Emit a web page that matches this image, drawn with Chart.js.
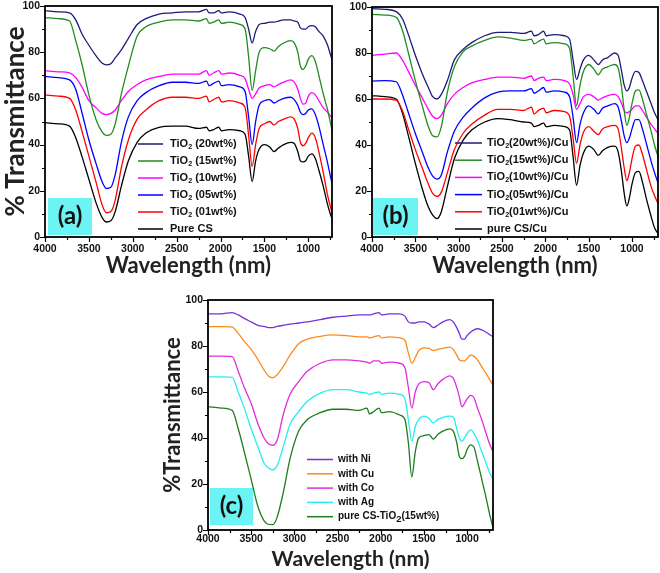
<!DOCTYPE html>
<html>
<head>
<meta charset="utf-8">
<script src="https://cdn.jsdelivr.net/npm/chart.js@4.4.1/dist/chart.umd.min.js"></script>
<style>
    html, body { margin: 0; padding: 0; background: #fff; }
    #wrap { position: relative; width: 660px; height: 573px; overflow: hidden; }
    canvas { position: absolute; }
</style>
</head>
<body>
<div id="wrap">
    <canvas id="chartA" width="340" height="290" style="left:0;top:0"></canvas>
    <canvas id="chartB" width="330" height="290" style="left:330px;top:0"></canvas>
    <canvas id="chartC" width="340" height="283" style="left:160px;top:290px"></canvas>
</div>
<script>
// wavenumber grid shared by every spectrum
const WAVE = [4000, 3850, 3720, 3650, 3580, 3500, 3420, 3350, 3300, 3250,
              3200, 3130, 3050, 2950, 2850, 2700, 2550, 2400, 2250, 2160,
              2130, 2080, 2020, 1990, 1900, 1780, 1720, 1680, 1640, 1600,
              1560, 1500, 1440, 1390, 1340, 1280, 1200, 1160, 1120, 1090,
              1060, 1030, 1000, 960, 920, 880, 830, 780, 740, 700];
const X_TICKS = [4000, 3500, 3000, 2500, 2000, 1500, 1000];
const Y_TICKS = [0, 20, 40, 60, 80, 100];

// --- panel (a) ---
const A_LABELS = ['TiO_2 (20wt%)', 'TiO_2 (15wt%)', 'TiO_2 (10wt%)', 'TiO_2 (05wt%)', 'TiO_2 (01wt%)', 'Pure CS'];
const A_20 = [98, 97.5, 97, 94, 88, 83, 78.5, 75.3, 74.5, 75,
              77.5, 81, 86, 92, 94.5, 96.5, 97, 97.5, 97.5, 98.5,
              97, 97, 98, 97, 97.5, 96.5, 95, 90, 84, 89,
              92, 92.5, 93, 93, 93.5, 94, 94, 93.5, 93, 90.5,
              90, 90, 91, 91.5, 91, 89, 87, 83, 78, 74];
const A_15 = [95, 94.5, 93.5, 85, 75, 61.5, 51, 45.5, 44, 44.5,
              49, 62, 74, 87, 91, 93, 94, 94, 93.5, 94.5,
              92.5, 93, 94, 92.5, 93, 92, 90, 78, 63.5, 72,
              80, 82, 81.5, 80.5, 82.5, 84, 85, 84, 80, 74,
              72.5, 74, 77, 78.5, 76, 70, 62, 55, 48, 42];
const A_10 = [72, 71.5, 71, 69, 65, 59, 56, 53.5, 53, 53.5,
              55, 59, 63, 66, 68, 69.5, 70.5, 70.5, 70.5, 72,
              70, 71, 72, 70.5, 71, 70, 68.5, 64, 60, 62,
              64.5, 65.5, 66, 65, 66, 67, 68, 67, 64, 60,
              57.5, 58, 61, 62.5, 61.5, 59, 56, 54, 52, 50];
const A_05 = [69.5, 69, 68, 64, 54, 42, 32, 24, 21, 21.5,
              27, 41, 52, 59, 62.5, 65.5, 67, 67, 66.5, 67.5,
              65.5, 66.5, 67.5, 65.5, 66, 65, 63, 52, 40, 50,
              57, 59, 59.5, 58, 59, 60, 60.5, 59.5, 57, 54,
              53, 53.5, 55, 55.5, 53, 48, 40, 32, 25, 19];
const A_01 = [61.5, 61, 60, 55, 46, 35, 24, 14, 10.5, 11,
              16, 30, 42, 51, 55, 59, 60.5, 60.5, 60, 61,
              58.5, 59.5, 60.5, 58.5, 59, 58, 56, 44, 30.5, 40,
              47, 49, 50, 48.5, 50, 51, 52, 51, 47, 41,
              39.5, 40.5, 43, 45, 43, 37, 28, 18, 12, 7];
const A_CS = [49.5, 49, 48, 43, 35, 25, 15, 8.5, 6.5, 7,
              11, 22, 33, 41, 45, 47.5, 48, 48, 47, 47.5,
              46, 46.5, 47.5, 46, 46.5, 46, 44.5, 35, 24, 33,
              38, 40, 39, 37, 38.5, 40, 41, 40.5, 37, 33,
              32.5, 33, 35, 36, 34, 29, 22, 14, 9, 6];

// --- panel (b) ---
const B_LABELS = ['TiO_2(20wt%)/Cu', 'TiO_2(15wt%)/Cu', 'TiO_2(10wt%)/Cu', 'TiO_2(05wt%)/Cu', 'TiO_2(01wt%)/Cu', 'pure CS/Cu'];
const B_20 = [99.3, 99, 98, 95, 88, 79, 71, 65, 61, 60,
              62, 68, 77, 81.5, 84.5, 87.5, 89, 89, 88.5, 89.5,
              87.5, 88, 89.5, 87.5, 88, 87.5, 86, 77, 68.5, 73,
              77, 79, 77, 75, 77, 78, 80, 79, 72, 66,
              63.5, 65, 69, 72, 71.5, 68, 63, 58, 54, 51];
const B_15 = [96.8, 96.5, 95.5, 90, 80, 68, 57, 48, 44, 43.5,
              48, 63, 74, 80.5, 83, 85.5, 87, 86.5, 85.5, 86,
              84, 85, 86, 84, 84.5, 84, 82, 70, 57, 66,
              72, 75, 73, 70.5, 73, 74, 75, 73.5, 65, 55,
              48.5, 52, 58, 63.5, 64, 60, 53, 46, 40, 35];
const B_10 = [79, 79.5, 80, 77, 72, 66, 60.5, 55.5, 52.5, 51.5,
              53, 58, 62, 65, 67, 68.5, 69.5, 69.5, 69, 70,
              68, 69, 69.5, 68, 68.5, 68, 66.5, 62, 55.5, 58,
              61, 62, 61, 59.5, 60.5, 61.5, 62, 61, 58, 55,
              54, 54.5, 55.5, 57, 57, 55, 52, 49, 47, 45];
const B_05 = [67.8, 68, 67.5, 62, 54, 45, 37, 30, 26.5, 25.2,
              27, 37, 46, 52, 56, 60.5, 63, 63.5, 63.5, 64.5,
              62.5, 63.5, 65, 63, 63.5, 63, 61, 52, 41, 49,
              54, 57, 55.5, 53.5, 56, 57, 58, 56.5, 50, 44,
              41, 43, 47, 51, 51, 47, 40, 33, 28, 23.5];
const B_01 = [60, 60, 59.5, 55, 47, 38, 30, 23, 19, 17.6,
              19.5, 28, 38, 45, 49, 53, 55.5, 55.5, 55, 56.5,
              53.5, 55, 56, 54, 55, 54.5, 52.5, 43, 32, 40,
              45.5, 48, 46, 44.5, 47, 48, 48.5, 47, 38, 30,
              24.5, 28, 34, 39.5, 40, 36, 29, 22, 18, 14.5];
const B_CS = [61.5, 61, 60, 54, 44, 32, 21, 13, 9.5, 8,
              11, 22, 34, 42, 46.5, 50, 51.5, 51, 50, 49.5,
              48, 48.5, 49.5, 48, 48.5, 48, 46.5, 35, 22.5, 31,
              36.5, 39.5, 38, 35.5, 37.5, 39, 39.5, 37, 28, 19,
              13.5, 17, 23, 28, 28.5, 24, 16, 9, 4, 1.5];

// --- panel (c) ---
const C_LABELS = ['with Ni', 'with Cu', 'with Co', 'with Ag', 'pure CS-TiO_2(15wt%)'];
const C_NI = [94, 94, 94.5, 93.5, 92, 90.5, 89, 88.5, 88, 88,
              88.5, 89, 89.5, 90, 90.5, 91.5, 92.5, 93, 93.5, 93.5,
              93.5, 94, 94.5, 93.5, 94, 94, 93, 90.5, 90, 90,
              90.5, 90.5, 89.5, 88, 89, 90.5, 91.5, 90.5, 88, 85.5,
              83, 83, 84.5, 86, 87, 87.5, 87, 86, 85, 84];
const C_CU = [88.4, 88.4, 88.2, 85.5, 82, 78.5, 74, 69.5, 67, 66.2,
              67.5, 71, 76, 81, 83, 84.2, 84.8, 84.5, 84, 84,
              83.5, 84, 84.5, 83.5, 84, 83.5, 82.5, 77, 72.5, 75,
              78, 79.2, 79, 78, 78.5, 79, 79.5, 78.5, 76, 74,
              73.5, 73.5, 74.5, 76, 75.5, 74, 71, 68, 65.5, 63];
const C_CO = [75.6, 75.6, 75.4, 69, 62, 55, 46, 40, 37.5, 36.8,
              39, 50, 59, 64.5, 69, 72.5, 74, 74, 73.5, 73,
              72.5, 73.5, 73.5, 72.5, 73, 72.5, 70.5, 62, 53, 60,
              63.5, 64.5, 64, 61, 63.5, 65.5, 67, 66, 62, 58,
              53.5, 55, 57, 58.5, 57.5, 53, 48, 42, 37.5, 34];
const C_AG = [66.6, 66.6, 66.4, 60, 53, 44, 36, 29, 27, 26.2,
              28, 36, 46, 51.5, 56, 59.5, 61, 61, 60, 59.5,
              59, 59.5, 60, 59, 59.5, 59, 57, 48, 38.6, 45,
              48, 49.5, 48.5, 46.5, 48, 49, 49.5, 49, 44, 40,
              38.5, 40, 42, 43.5, 42, 39, 34, 29, 25, 22];
const C_PURE = [53.6, 53, 52, 44, 34, 22, 10, 4, 2.5, 2.3,
                5.5, 16, 31, 43, 48, 51, 52.5, 52.5, 52, 53,
                50.5, 51.5, 53, 51, 51.5, 50, 48, 38, 23, 34,
                40, 41, 41.5, 39.5, 41.5, 43, 44, 43, 38, 32,
                31, 32, 35, 37, 36, 30, 22, 14, 7, 1];

const TITLE_FONT = 'Lato, "Open Sans", sans-serif';
const TICK_FONT = '"Liberation Sans", Arial, sans-serif';

function pts(vals) {
    return WAVE.map((w, i) => ({ x: w, y: vals[i] }));
}

function drawLabel(ctx, text, x, y, size, subScale, subDrop) {
    const parts = text.split('_');
    ctx.font = `bold ${size}px ${TICK_FONT}`;
    ctx.fillText(parts[0], x, y);
    let cx = x + ctx.measureText(parts[0]).width;
    if (parts.length > 1) {
        const sub = parts[1][0];
        const rest = parts[1].slice(1);
        ctx.font = `bold ${size * subScale}px ${TICK_FONT}`;
        ctx.fillText(sub, cx, y + subDrop);
        cx += ctx.measureText(sub).width;
        ctx.font = `bold ${size}px ${TICK_FONT}`;
        ctx.fillText(rest, cx, y);
    }
}

// box, frame, outward ticks and legend
const panelDeco = {
    id: 'panelDeco',
    beforeDatasetsDraw(chart, args, o) {
        const { ctx, chartArea: ca } = chart;
        ctx.save();
        ctx.fillStyle = '#6cf3f3';
        ctx.fillRect(ca.left + o.box[0], ca.bottom + o.box[1], o.box[2], o.box[3]);
        ctx.fillStyle = '#111';
        ctx.font = `bold 24px ${TITLE_FONT}`;
        ctx.textAlign = 'center';
        ctx.textBaseline = 'middle';
        ctx.fillText(o.tag, ca.left + o.box[0] + o.box[2] / 2, ca.bottom + o.box[1] + o.box[3] / 2);
        ctx.restore();
    },
    afterDraw(chart, args, o) {
        const { ctx, chartArea: ca, scales: { x, y } } = chart;
        ctx.save();
        ctx.strokeStyle = '#000';
        ctx.lineWidth = 1.2;
        ctx.beginPath();
        for (let v = 0; v <= 100; v += 10) {
            const py = Math.round(y.getPixelForValue(v)) + 0.5;
            const len = v % 20 === 0 ? 5 : 3;
            ctx.moveTo(ca.left - len, py);
            ctx.lineTo(ca.left, py);
        }
        for (let v = 750; v <= 4000; v += 250) {
            if (v < x.min) continue;
            const px = Math.round(x.getPixelForValue(v)) + 0.5;
            const len = v % 500 === 0 ? 5 : 3;
            ctx.moveTo(px, ca.bottom);
            ctx.lineTo(px, ca.bottom + len);
        }
        ctx.stroke();

        ctx.lineWidth = 1.8;
        ctx.strokeRect(ca.left, ca.top, ca.width, ca.height);

        // legend
        ctx.textBaseline = 'middle';
        ctx.fillStyle = '#111';
        chart.data.datasets.forEach((ds, i) => {
            const ly = ca.top + o.legY + i * o.legStep;
            ctx.strokeStyle = ds.borderColor;
            ctx.lineWidth = 1.5;
            ctx.beginPath();
            ctx.moveTo(ca.left + o.legX0, ly);
            ctx.lineTo(ca.left + o.legX1, ly);
            ctx.stroke();
            drawLabel(ctx, ds.label, ca.left + o.legText, ly, o.legSize, o.subScale, o.subDrop);
        });
        ctx.restore();
    }
};

function makeChart(id, cfg) {
    const ctx = document.getElementById(id).getContext('2d');
    return new Chart(ctx, {
        type: 'line',
        data: {
            datasets: cfg.series.map((s, i) => ({
                label: cfg.labels[i],
                data: pts(s),
                borderColor: cfg.colors[i],
                borderWidth: 1.3,
                pointRadius: 0,
                cubicInterpolationMode: 'monotone',
                fill: false
            }))
        },
        options: {
            responsive: false,
            animation: false,
            events: [],
            layout: { padding: cfg.pad },
            plugins: {
                legend: { display: false },
                tooltip: { enabled: false },
                panelDeco: cfg.deco
            },
            scales: {
                x: {
                    type: 'linear',
                    reverse: true,
                    min: cfg.xMin,
                    max: 4000,
                    afterBuildTicks: s => { s.ticks = X_TICKS.map(v => ({ value: v })); },
                    afterFit: s => { s.height = cfg.xH; s.paddingLeft = 0; s.paddingRight = 0; },
                    grid: { display: false, drawTicks: false },
                    border: { display: false },
                    ticks: { padding: cfg.xTickPad, autoSkip: false, maxRotation: 0, color: '#111',
                             callback: v => String(v),
                             font: { family: TICK_FONT, size: 10.5, weight: 'bold' } },
                    title: { display: true, text: 'Wavelength (nm)', color: '#222',
                             font: { family: TITLE_FONT, size: cfg.xTitleSize, weight: 'bold' },
                             padding: { top: 0, bottom: cfg.xTitlePad } }
                },
                y: {
                    min: 0,
                    max: 100,
                    afterBuildTicks: s => { s.ticks = Y_TICKS.map(v => ({ value: v })); },
                    afterFit: s => { s.width = cfg.yW; s.paddingTop = 0; s.paddingBottom = 0; },
                    grid: { display: false, drawTicks: false },
                    border: { display: false },
                    ticks: { padding: 5, color: '#111', callback: v => String(v),
                             font: { family: TICK_FONT, size: 10.5, weight: 'bold' } },
                    title: cfg.yTitle
                        ? { display: true, text: cfg.yTitle, color: '#222',
                            font: { family: TITLE_FONT, size: cfg.yTitleSize, weight: 'bold' },
                            padding: { top: 0, bottom: 0 } }
                        : { display: false }
                }
            }
        },
        plugins: [panelDeco]
    });
}

const COLORS_AB = ['#1b1b7a', '#228b22', '#ff00ff', '#0000ff', '#ff0000', '#000000'];

makeChart('chartA', {
    series: [A_20, A_15, A_10, A_05, A_01, A_CS],
    labels: A_LABELS,
    colors: COLORS_AB,
    pad: { top: 6, right: 8, left: 0, bottom: 0 },
    xMin: 730, xH: 53, xTickPad: 6, xTitleSize: 22, xTitlePad: 11,
    yW: 45, yTitle: '% Transmittance', yTitleSize: 26,
    deco: { tag: '(a)', box: [3, -39, 44, 37], legY: 138, legStep: 17, legX0: 93, legX1: 118, legText: 125,
            legSize: 11, subScale: 0.65, subDrop: 3 }
});

makeChart('chartB', {
    series: [B_20, B_15, B_10, B_05, B_01, B_CS],
    labels: B_LABELS,
    colors: COLORS_AB,
    pad: { top: 7, right: 2, left: 0, bottom: 0 },
    xMin: 700, xH: 53, xTickPad: 6, xTitleSize: 22, xTitlePad: 11,
    yW: 42, yTitle: null,
    deco: { tag: '(b)', box: [1, -39, 45, 37], legY: 136, legStep: 17.2, legX0: 83, legX1: 110, legText: 115,
            legSize: 11, subScale: 0.65, subDrop: 3 }
});

makeChart('chartC', {
    series: [C_NI, C_CU, C_CO, C_AG, C_PURE],
    labels: C_LABELS,
    colors: ['#7433d9', '#ff8a1c', '#e02ce0', '#25eef0', '#1d7d1d'],
    pad: { top: 10, right: 7, left: 0, bottom: 0 },
    xMin: 700, xH: 43, xTickPad: 3, xTitleSize: 21, xTitlePad: 1,
    yW: 48, yTitle: '%Transmittance', yTitleSize: 22,
    deco: { tag: '(c)', box: [2, -42, 43, 37], legY: 159.5, legStep: 14.3, legX0: 99, legX1: 125, legText: 130,
            legSize: 10, subScale: 0.95, subDrop: 3 }
});
</script>
</body>
</html>
